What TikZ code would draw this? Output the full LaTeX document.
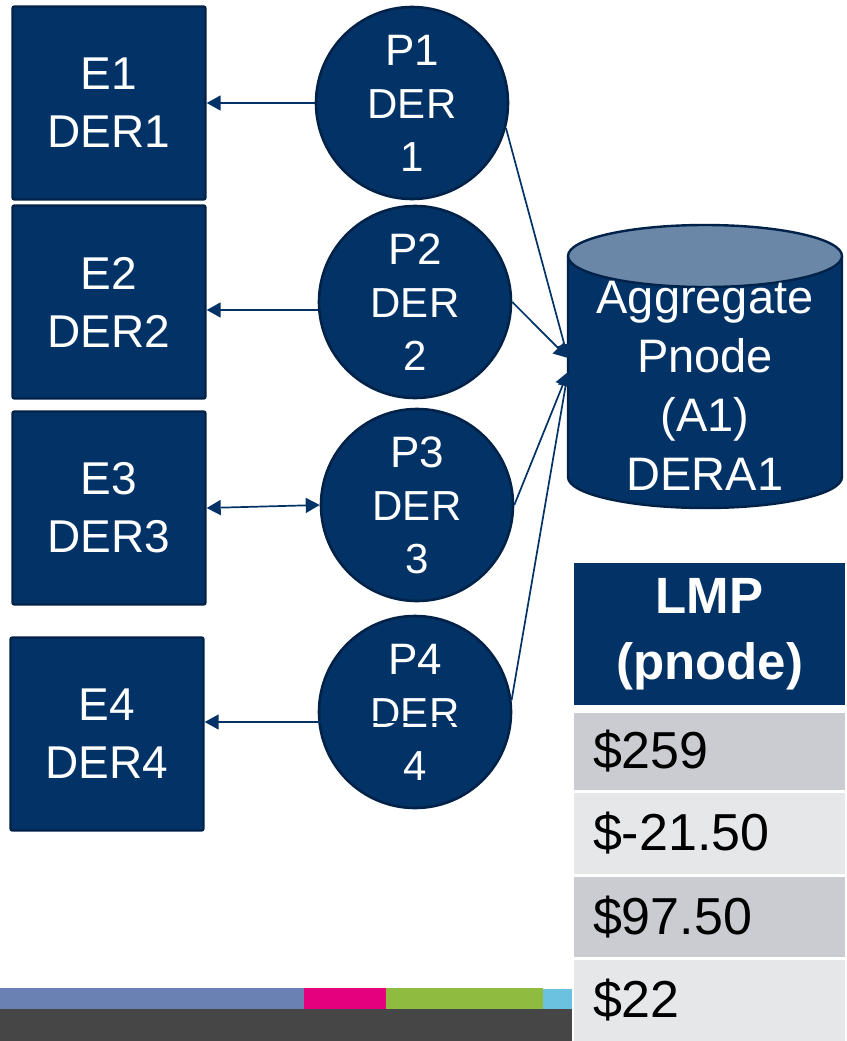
\documentclass[tikz,border=0pt]{standalone}
\usepackage{fontspec}
\setmainfont{Liberation Sans}
\usetikzlibrary{arrows.meta,calc}
\definecolor{navy}{RGB}{3,51,102}
\definecolor{navyline}{RGB}{0,34,72}
\definecolor{capfill}{RGB}{106,135,168}
\definecolor{rowdark}{RGB}{203,204,209}
\definecolor{rowlight}{RGB}{230,231,233}
\definecolor{barblue}{RGB}{106,130,179}
\definecolor{barmag}{RGB}{229,0,126}
\definecolor{bargreen}{RGB}{143,188,64}
\definecolor{barcyan}{RGB}{107,193,224}
\definecolor{bardark}{RGB}{70,70,70}
\begin{document}
\begin{tikzpicture}[x=1pt,y=-1pt,
  ebox/.style={rectangle, fill=navy, draw=navyline, line width=2.4pt, rounded corners=2pt,
    minimum width=193pt, minimum height=193pt, text=white, align=center,
    font=\fontsize{46}{58}\selectfont, inner sep=0pt},
  pcirc/.style={circle, fill=navy, draw=navyline, line width=2.6pt, minimum size=192pt,
    text=white, align=center, font=\fontsize{42}{53}\selectfont, inner sep=0pt},
  conn/.style={draw=navy, line width=1.7pt},
  tip/.style={-{Triangle[length=14pt,width=15pt]}},
  dtip/.style={{Triangle[length=14pt,width=15pt]}-{Triangle[length=14pt,width=15pt]}},
  cylline/.style={draw=navyline, line width=2.4pt},
  rowcell/.style={rectangle, minimum width=271pt, text width=233pt, inner xsep=19pt,
    inner ysep=0pt, align=left, text=black, font=\fontsize{52}{62}\selectfont},
  headcell/.style={rectangle, fill=navy, minimum width=271pt, minimum height=142pt,
    inner sep=0pt, text=white, align=center, font=\bfseries\fontsize{51}{66}\selectfont}
]
\useasboundingbox (0,0) rectangle (846,1041);
\fill[white] (0,0) rectangle (846,1041);

% E boxes
\node[ebox] (E1) at (109,103) {E1\\DER1};
\node[ebox] (E2) at (109,302) {E2\\DER2};
\node[ebox] (E3) at (109,508) {E3\\DER3};
\node[ebox] (E4) at (107,734) {E4\\DER4};

% P circles
\node[pcirc] (P1) at (412,103) {{\fontsize{44}{53}\selectfont P1}\\DER\\1};
\node[pcirc] (P2) at (415,302) {{\fontsize{44}{53}\selectfont P2}\\DER\\2};
\node[pcirc] (P3) at (417,505) {{\fontsize{44}{53}\selectfont P3}\\DER\\3};
\node[pcirc] (P4) at (415,712) {{\fontsize{44}{53}\selectfont P4}\\DER\\4};

% Cylinder
\path[fill=navy, cylline] (568,256) -- (568,477)
  arc[start angle=180, end angle=360, x radius=137pt, y radius=31pt] -- (842,256);
\path[fill=capfill, cylline] (705,256) ellipse[x radius=137pt, y radius=31pt];
\node[text=white, align=center, font=\fontsize{47}{59}\selectfont, inner sep=0pt] (A) at (705,386)
  {Aggregate\\Pnode\\(A1)\\DERA1};
\coordinate (Ain1) at (568,358);
\coordinate (Ain2) at (568,372);

% connectors to aggregate
\draw[conn,tip] (P1.-15) -- (Ain1);
\draw[conn,tip] (P2.east) -- (Ain1);
\draw[conn,tip] (P3.east) -- (Ain2);
\draw[conn,tip] (P4.7) -- (Ain2);

% connectors to E boxes
\draw[conn,tip] (P1.west) -- (P1.west -| E1.east);
\coordinate (p2s) at ($(P2.west)+(0,8)$);
\draw[conn,tip] (p2s) -- (p2s -| E2.east);
\draw[conn,dtip] (E3.east) -- (P3.west);
\coordinate (p4s) at ($(P4.center)+(55,10)$);
\draw[conn,tip] (p4s) -- (p4s -| E4.east);

% table
\node[headcell] (H) at (709.5,634) {LMP\\(pnode)};
\node[rowcell, fill=rowdark, minimum height=77pt] (R1) at (709.5,751.5) {\$259};
\node[rowcell, fill=rowlight, minimum height=81pt] (R2) at (709.5,833.5) {\$-21.50};
\node[rowcell, fill=rowdark, minimum height=80pt] (R3) at (709.5,917) {\$97.50};
\node[rowcell, fill=rowlight, minimum height=81pt] (R4) at (709.5,1000.5) {\$22};

% footer bars
\fill[barblue] (0,988) rectangle (304,1009);
\fill[barmag] (304,988) rectangle (386,1009);
\fill[bargreen] (386,988) rectangle (543,1009);
\fill[barcyan] (543,989) rectangle (572,1009);
\fill[bardark] (0,1009) rectangle (572,1041);
\end{tikzpicture}
\end{document}
